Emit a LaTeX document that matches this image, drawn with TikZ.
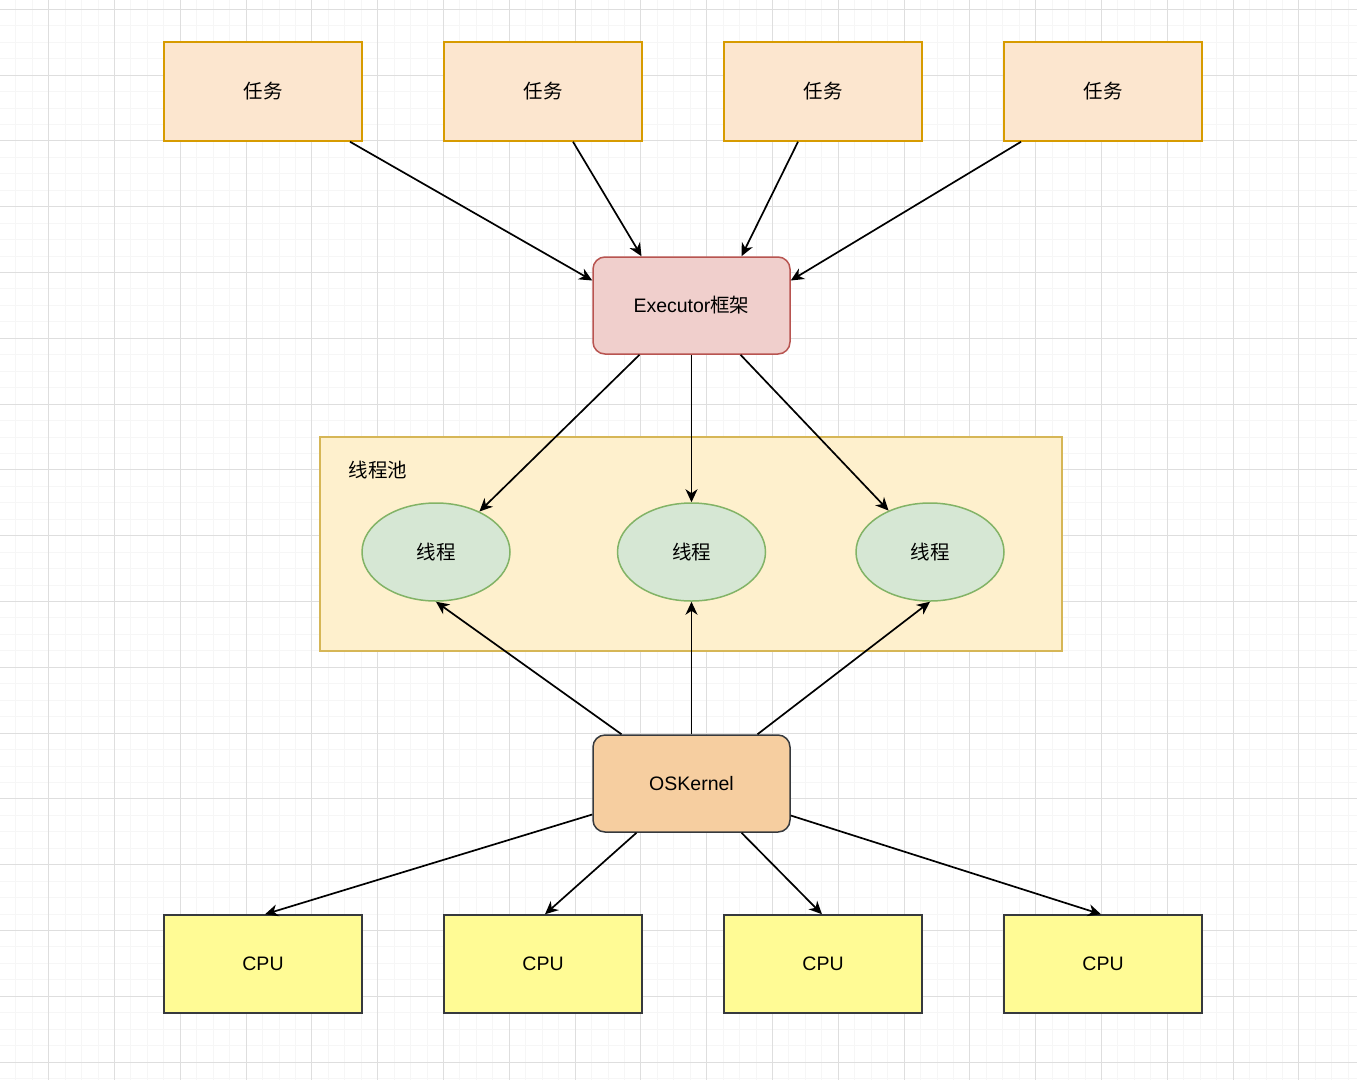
\documentclass[tikz,border=0pt]{standalone}
\usepackage{fontspec}
\setmainfont{Liberation Sans}
\newfontfamily\cjk{Noto Sans CJK SC}
\usetikzlibrary{arrows.meta,shapes.geometric}
\definecolor{gridminor}{HTML}{F6F6F6}
\definecolor{gridmajor}{HTML}{DEDEDE}
\definecolor{taskfill}{HTML}{FCE6CF}
\definecolor{taskdraw}{HTML}{D79B00}
\definecolor{exfill}{HTML}{F0CFCC}
\definecolor{exdraw}{HTML}{B85450}
\definecolor{poolfill}{HTML}{FEF0CD}
\definecolor{pooldraw}{HTML}{D6B656}
\definecolor{thfill}{HTML}{D6E7D4}
\definecolor{thdraw}{HTML}{82B366}
\definecolor{osfill}{HTML}{F6CEA0}
\definecolor{darkdraw}{HTML}{36393D}
\definecolor{cpufill}{HTML}{FFFB95}
\tikzset{
  base/.style={font=\fontsize{19.5}{22}\selectfont, inner sep=0pt, line width=1.5pt},
  taskbox/.style={base, draw=taskdraw, fill=taskfill, minimum width=198, minimum height=99},
  exbox/.style={base, draw=exdraw, fill=exfill, rounded corners=12, minimum width=197, minimum height=97},
  osbox/.style={base, draw=darkdraw, fill=osfill, rounded corners=12, minimum width=197, minimum height=97},
  cpubox/.style={base, draw=darkdraw, fill=cpufill, minimum width=198, minimum height=98},
  thread/.style={base, ellipse, draw=thdraw, fill=thfill, minimum width=148, minimum height=98},
  arr/.style={line width=1.7pt, -{Stealth[length=13, width=12, inset=4]}}
}
\begin{document}
\begin{tikzpicture}[x=1pt, y=-1pt]
\useasboundingbox (0,0) rectangle (1357,1080);
\fill[white] (0,0) rectangle (1357,1080);
% grid
\foreach \i in {0,...,82} \draw[gridminor, line width=1pt] ({15.8+16.45*\i},0) -- ({15.8+16.45*\i},1080);
\foreach \i in {0,...,65} \draw[gridminor, line width=1pt] (0,{9.3+16.45*\i}) -- (1357,{9.3+16.45*\i});
\foreach \i in {0,...,20} \draw[gridmajor, line width=1pt] ({48.7+65.8*\i},0) -- ({48.7+65.8*\i},1080);
\foreach \i in {0,...,16} \draw[gridmajor, line width=1pt] (0,{9.3+65.8*\i}) -- (1357,{9.3+65.8*\i});

% tasks
\node[taskbox] (t1) at (263,91.5) {\cjk 任务};
\node[taskbox] (t2) at (543,91.5) {\cjk 任务};
\node[taskbox] (t3) at (823,91.5) {\cjk 任务};
\node[taskbox] (t4) at (1103,91.5) {\cjk 任务};

\node[exbox] (ex) at (691.5,305.5) {Executor{\cjk 框架}};

% pool
\node[base, draw=pooldraw, fill=poolfill, line width=1.2pt, minimum width=742, minimum height=214] (pool) at (691,544) {};
\node[base, anchor=west] (poollabel) at (348,470) {\cjk 线程池};

\node[thread] (e1) at (436,552) {\cjk 线程};
\node[thread] (e2) at (691.5,552) {\cjk 线程};
\node[thread] (e3) at (930,552) {\cjk 线程};

\node[osbox] (os) at (691.5,783.5) {OSKernel};

\node[cpubox] (c1) at (263,964) {CPU};
\node[cpubox] (c2) at (543,964) {CPU};
\node[cpubox] (c3) at (823,964) {CPU};
\node[cpubox] (c4) at (1103,964) {CPU};

% arrows tasks -> executor
\draw[arr] ([xshift=87]t1.south) -- ([yshift=25]ex.west);
\draw[arr] ([xshift=30]t2.south) -- ([xshift=-50]ex.north);
\draw[arr] ([xshift=-25]t3.south) -- ([xshift=50]ex.north);
\draw[arr] ([xshift=-82]t4.south) -- ([yshift=25]ex.east);

% executor -> threads
\draw[arr] ([xshift=-52]ex.south) -- (e1.43);
\draw[arr] (ex.south) -- (e2.north);
\draw[arr] ([xshift=49]ex.south) -- (e3.135);

% os -> threads
\draw[arr] ([xshift=-70]os.north) -- (e1.south);
\draw[arr] (os.north) -- (e2.south);
\draw[arr] ([xshift=66]os.north) -- (e3.south);

% os -> cpus
\draw[arr] ([yshift=-31]os.west) -- ([xshift=2]c1.north);
\draw[arr] ([xshift=-55]os.south) -- ([xshift=2]c2.north);
\draw[arr] ([xshift=50]os.south) -- ([xshift=-1]c3.north);
\draw[arr] ([yshift=-32]os.east) -- ([xshift=-2]c4.north);
\end{tikzpicture}
\end{document}
